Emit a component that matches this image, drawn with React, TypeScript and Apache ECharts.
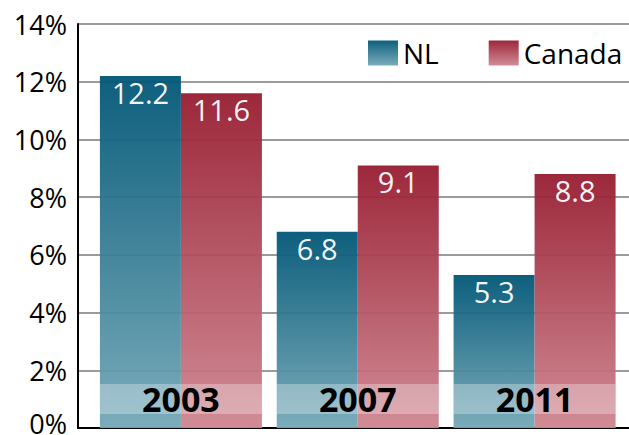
import React, { useEffect, useRef } from "react";
import * as echarts from "echarts";

const years = ["2003", "2007", "2011"];
const nlValues = [12.2, 6.8, 5.3];
const canadaValues = [11.6, 9.1, 8.8];
const seriesNames = ["NL", "Canada"];
const yMin = 0;
const yMax = 14;
const yStep = 2;

const FONT = "'Open Sans', 'Noto Sans', sans-serif";

const grad = (top: string, bottom: string) =>
  new echarts.graphic.LinearGradient(0, 0, 0, 1, [
    { offset: 0, color: top },
    { offset: 1, color: bottom },
  ]);

export default function App() {
  const ref = useRef<HTMLDivElement>(null);
  useEffect(() => {
    if (!ref.current) return;
    const chart = echarts.init(ref.current, undefined, { renderer: "svg" });
    const nlColor = grad("#005676", "#74a8b7");
    const caColor = grad("#971c30", "#ce8690");
    const valueLabel = {
      show: true,
      position: "insideTop" as const,
      distance: 2,
      color: "#fff",
      fontSize: 29,
      fontFamily: FONT,
      formatter: (p: any) => p.value.toFixed(1),
    };
    chart.setOption({
      animation: false,
      backgroundColor: "#fff",
      textStyle: { fontFamily: FONT },
      legend: {
        left: 363,
        top: 34,
        icon: "rect",
        itemWidth: 30,
        itemHeight: 25,
        itemGap: 50,
        textStyle: { fontSize: 28, color: "#000", fontFamily: FONT },
        data: seriesNames,
      },
      grid: [
        { left: 78, right: 0, top: 24, bottom: 7, outerBoundsMode: "none", containLabel: false },
        { left: 92.5, right: 6, top: 24, bottom: 7, outerBoundsMode: "none", containLabel: false },
      ],
      xAxis: [
        {
          gridIndex: 0,
          type: "value",
          min: 0,
          max: 1,
          axisLabel: { show: false },
          axisTick: { show: false },
          splitLine: { show: false },
          axisLine: { show: true, lineStyle: { color: "#000", width: 2 } },
        },
        {
          gridIndex: 1,
          type: "category",
          data: years,
          z: 10,
          axisLine: { show: false },
          axisTick: { show: false },
          axisLabel: {
            show: true,
            interval: 0,
            margin: -44,
            width: 162,
            height: 30,
            lineHeight: 30,
            align: "center",
            backgroundColor: "rgba(255,255,255,0.3)",
            color: "#000",
            fontSize: 34,
            fontWeight: "bold",
            fontFamily: FONT,
          },
        },
      ],
      yAxis: [
        {
          gridIndex: 0,
          type: "value",
          min: yMin,
          max: yMax,
          interval: yStep,
          axisLine: { show: true, lineStyle: { color: "#000", width: 2 } },
          axisTick: { show: false },
          axisLabel: {
            formatter: (v: number) => (v === 0 ? "{z|0%}" : v + "%"),
            color: "#000",
            fontSize: 27,
            fontFamily: FONT,
            margin: 11,
            rich: {
              z: {
                fontSize: 27,
                fontFamily: FONT,
                color: "#000",
                lineHeight: 6,
                padding: [0, 0, 10, 0],
              },
            },
          },
          splitLine: { show: true, lineStyle: { color: "#7a7a7a", width: 1.5 } },
        },
        {
          gridIndex: 1,
          type: "value",
          min: yMin,
          max: yMax,
          interval: yStep,
          show: false,
        },
      ],
      series: [
        {
          name: seriesNames[0],
          type: "bar",
          xAxisIndex: 1,
          yAxisIndex: 1,
          data: nlValues,
          barWidth: 81,
          barGap: "0%",
          itemStyle: { color: nlColor, opacity: 0.95 },
          label: valueLabel,
        },
        {
          name: seriesNames[1],
          type: "bar",
          xAxisIndex: 1,
          yAxisIndex: 1,
          data: canadaValues,
          barWidth: 81,
          barGap: "0%",
          itemStyle: { color: caColor, opacity: 0.95 },
          label: valueLabel,
        },
      ],
    });
    return () => chart.dispose();
  }, []);
  return <div ref={ref} style={{ width: 629, height: 435, position: "absolute", left: 0, top: 0 }} />;
}
